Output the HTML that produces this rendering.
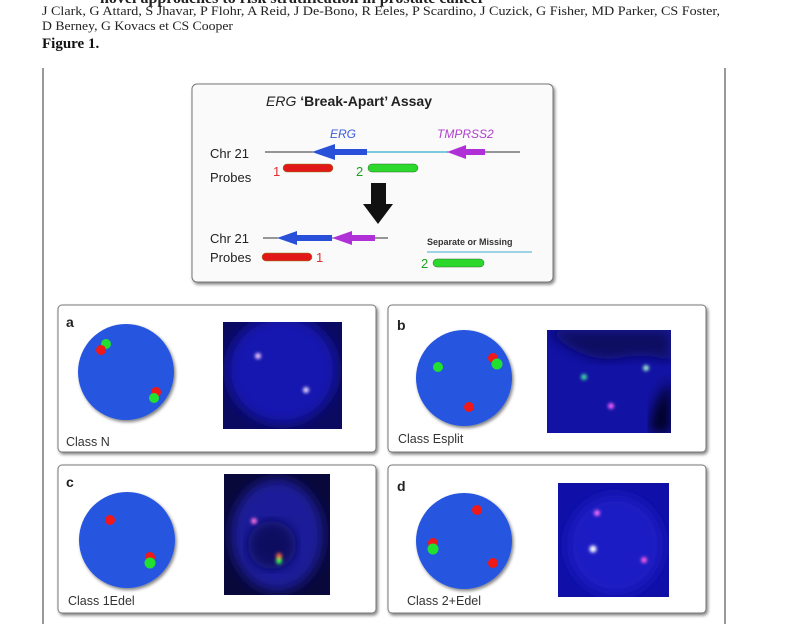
<!DOCTYPE html>
<html><head><meta charset="utf-8"><style>
html,body{margin:0;padding:0;background:#fff;width:795px;height:624px;overflow:hidden}
svg{display:block}
</style></head><body>
<svg width="795" height="624" viewBox="0 0 795 624" xmlns="http://www.w3.org/2000/svg">
<defs>
<filter id="sh" x="-10%" y="-10%" width="130%" height="130%"><feGaussianBlur in="SourceAlpha" stdDeviation="1.5"/><feOffset dx="1.5" dy="2"/><feComponentTransfer><feFuncA type="linear" slope="0.5"/></feComponentTransfer><feMerge><feMergeNode/><feMergeNode in="SourceGraphic"/></feMerge></filter>
<filter id="gl"><feGaussianBlur stdDeviation="1.6"/></filter>
<filter id="bb"><feGaussianBlur stdDeviation="6"/></filter>
<clipPath id="pa"><rect x="223" y="322" width="119" height="107"/></clipPath>
<clipPath id="pb"><rect x="547" y="330" width="124" height="103"/></clipPath>
<clipPath id="pc"><rect x="224" y="474" width="106" height="121"/></clipPath>
<clipPath id="pd"><rect x="558" y="483" width="111" height="114"/></clipPath>
</defs>
<!-- header -->
<text x="100" y="3" font-family="Liberation Serif,serif" font-size="16" font-weight="bold" fill="#222">novel approaches to risk stratification in prostate cancer</text>
<text x="42" y="15" font-family="Liberation Serif,serif" font-size="12.3" fill="#222" textLength="678" lengthAdjust="spacingAndGlyphs">J Clark, G Attard, S Jhavar, P Flohr, A Reid, J De-Bono, R Eeles, P Scardino, J Cuzick, G Fisher, MD Parker, CS Foster,</text>
<text x="42" y="30" font-family="Liberation Serif,serif" font-size="12.3" fill="#222" textLength="191" lengthAdjust="spacingAndGlyphs">D Berney, G Kovacs et CS Cooper</text>
<text x="42" y="48" font-family="Liberation Serif,serif" font-size="15" font-weight="bold" fill="#111">Figure 1.</text>
<line x1="43" y1="68" x2="43" y2="624" stroke="#333" stroke-width="1"/>
<line x1="725" y1="68" x2="725" y2="624" stroke="#333" stroke-width="1"/>

<rect x="192" y="84" width="361" height="198" rx="5" fill="#fafafa" stroke="#777" stroke-width="1" filter="url(#sh)"/>
<text x="266" y="106" font-family="Liberation Sans,sans-serif" font-size="14" fill="#222"><tspan font-style="italic">ERG</tspan><tspan font-weight="bold"> ‘Break-Apart’ Assay</tspan></text>
<text x="210" y="158" font-family="Liberation Sans,sans-serif" font-size="13" fill="#222">Chr 21</text>
<text x="210" y="182" font-family="Liberation Sans,sans-serif" font-size="13" fill="#222">Probes</text>
<text x="330" y="138" font-family="Liberation Sans,sans-serif" font-size="12" font-style="italic" fill="#3a5ed8">ERG</text>
<text x="437" y="138" font-family="Liberation Sans,sans-serif" font-size="12" font-style="italic" fill="#b040d0">TMPRSS2</text>
<line x1="265" y1="152" x2="520" y2="152" stroke="#333" stroke-width="1"/>
<line x1="367" y1="152" x2="447" y2="152" stroke="#7cc8dc" stroke-width="2"/>
<polygon points="312,152 335,144 335,149 367,149 367,155 335,155 335,160" fill="#2850d8"/>
<polygon points="447,152 466,145 466,149 485,149 485,155 466,155 466,159" fill="#b030d8"/>
<text x="273" y="176" font-family="Liberation Sans,sans-serif" font-size="13" fill="#e03030">1</text>
<rect x="283" y="164" width="50" height="8" rx="4" fill="#e21818" stroke="#882" stroke-width=".5"/>
<text x="356" y="176" font-family="Liberation Sans,sans-serif" font-size="13" fill="#20a020">2</text>
<rect x="368" y="164" width="50" height="8" rx="4" fill="#2cd82c" stroke="#363" stroke-width=".5"/>
<polygon points="371,183 386,183 386,204 393,204 378,224 363,204 371,204" fill="#111"/>
<text x="210" y="243" font-family="Liberation Sans,sans-serif" font-size="13" fill="#222">Chr 21</text>
<text x="210" y="262" font-family="Liberation Sans,sans-serif" font-size="13" fill="#222">Probes</text>
<line x1="263" y1="238" x2="388" y2="238" stroke="#333" stroke-width="1"/>
<polygon points="277,238 297,231 297,235 332,235 332,241 297,241 297,245" fill="#2850d8"/>
<polygon points="332,238 352,231 352,235 375,235 375,241 352,241 352,245" fill="#b030d8"/>
<rect x="262" y="253" width="50" height="8" rx="4" fill="#e21818" stroke="#882" stroke-width=".5"/>
<text x="316" y="262" font-family="Liberation Sans,sans-serif" font-size="13" fill="#e03030">1</text>
<text x="427" y="245" font-family="Liberation Sans,sans-serif" font-size="9" font-weight="bold" fill="#333">Separate or Missing</text>
<line x1="427" y1="252" x2="532" y2="252" stroke="#7cc8dc" stroke-width="1.5"/>
<text x="421" y="268" font-family="Liberation Sans,sans-serif" font-size="13" fill="#20a020">2</text>
<rect x="433" y="259" width="51" height="8" rx="4" fill="#2cd82c" stroke="#363" stroke-width=".5"/>

<g font-family="Liberation Sans,sans-serif" fill="#333">
<rect x="58" y="305" width="318" height="147" rx="4" fill="#fff" stroke="#777" filter="url(#sh)"/>
<rect x="388" y="305" width="318" height="147" rx="4" fill="#fff" stroke="#777" filter="url(#sh)"/>
<rect x="58" y="465" width="318" height="148" rx="4" fill="#fff" stroke="#777" filter="url(#sh)"/>
<rect x="388" y="465" width="318" height="148" rx="4" fill="#fff" stroke="#777" filter="url(#sh)"/>
<text x="66" y="327" font-size="14" font-weight="bold" fill="#222">a</text>
<text x="397" y="330" font-size="14" font-weight="bold" fill="#222">b</text>
<text x="66" y="487" font-size="14" font-weight="bold" fill="#222">c</text>
<text x="397" y="491" font-size="14" font-weight="bold" fill="#222">d</text>
<text x="66" y="446" font-size="12.5">Class N</text>
<text x="398" y="443" font-size="12.5">Class Esplit</text>
<text x="68" y="605" font-size="12.5">Class 1Edel</text>
<text x="407" y="605" font-size="12.5">Class 2+Edel</text>
</g>
<g filter="url(#sh)" fill="#2656e0">
<ellipse cx="126" cy="372" rx="48" ry="48"/>
<ellipse cx="464" cy="378" rx="48" ry="48"/>
<ellipse cx="127" cy="540" rx="48" ry="48"/>
<ellipse cx="464" cy="541" rx="48" ry="48"/>
</g>
<g>
<circle cx="106" cy="344" r="5" fill="#22e030"/><circle cx="101" cy="350" r="5" fill="#f01818"/>
<circle cx="156" cy="392" r="5" fill="#f01818"/><circle cx="154" cy="398" r="5" fill="#22e030"/>
<circle cx="438" cy="367" r="5" fill="#22e030"/><circle cx="493" cy="358" r="5" fill="#f01818"/><circle cx="497" cy="364" r="5.5" fill="#22e030"/><circle cx="469" cy="407" r="5" fill="#f01818"/>
<circle cx="110" cy="520" r="5" fill="#f01818"/><circle cx="150" cy="557" r="5" fill="#f01818"/><circle cx="150" cy="563" r="5.5" fill="#22e030"/>
<circle cx="477" cy="510" r="5" fill="#f01818"/><circle cx="433" cy="543" r="5" fill="#f01818"/><circle cx="433" cy="549" r="5.5" fill="#22e030"/><circle cx="493" cy="563" r="5" fill="#f01818"/>
</g>
<!-- photos -->
<g clip-path="url(#pa)">
<rect x="223" y="322" width="119" height="107" fill="#0a0a60"/>
<ellipse cx="282" cy="370" rx="55" ry="54" fill="#1414b0" filter="url(#bb)"/>
</g>
<g clip-path="url(#pb)">
<rect x="547" y="330" width="124" height="103" fill="#1212a4"/>
<path d="M547 330 Q585 365 620 358 Q650 352 671 362 L671 330Z" fill="#0a0a60" filter="url(#bb)"/>
<path d="M671 380 Q650 405 650 433 L671 433Z" fill="#050520" filter="url(#bb)"/>
</g>
<g clip-path="url(#pc)">
<rect x="224" y="474" width="106" height="121" fill="#08083a"/>
<ellipse cx="277" cy="535" rx="46" ry="56" fill="#1a1a9a" filter="url(#bb)"/>
<ellipse cx="272" cy="545" rx="24" ry="24" fill="#101060" filter="url(#bb)"/>
</g>
<g clip-path="url(#pd)">
<rect x="558" y="483" width="111" height="114" fill="#1010a8"/>
<ellipse cx="615" cy="545" rx="48" ry="50" fill="#1a1ac4" filter="url(#bb)"/>
</g>
<g filter="url(#gl)">
<circle cx="258" cy="356" r="3" fill="#f0c8ff"/><circle cx="306" cy="390" r="3" fill="#e8d8ff"/>
<circle cx="584" cy="377" r="3" fill="#40e0a0"/><circle cx="646" cy="368" r="3" fill="#a0f0d0"/><circle cx="611" cy="406" r="3" fill="#ff60ff"/>
<circle cx="254" cy="521" r="3" fill="#ff70e0"/><circle cx="279" cy="556" r="3" fill="#ff6040"/><circle cx="279" cy="561" r="3" fill="#30ff50"/>
<circle cx="597" cy="513" r="3" fill="#ff70ff"/><circle cx="593" cy="549" r="3.5" fill="#ffffff"/><circle cx="644" cy="560" r="3" fill="#ff60e0"/>
</g>
</svg>
</body></html>
